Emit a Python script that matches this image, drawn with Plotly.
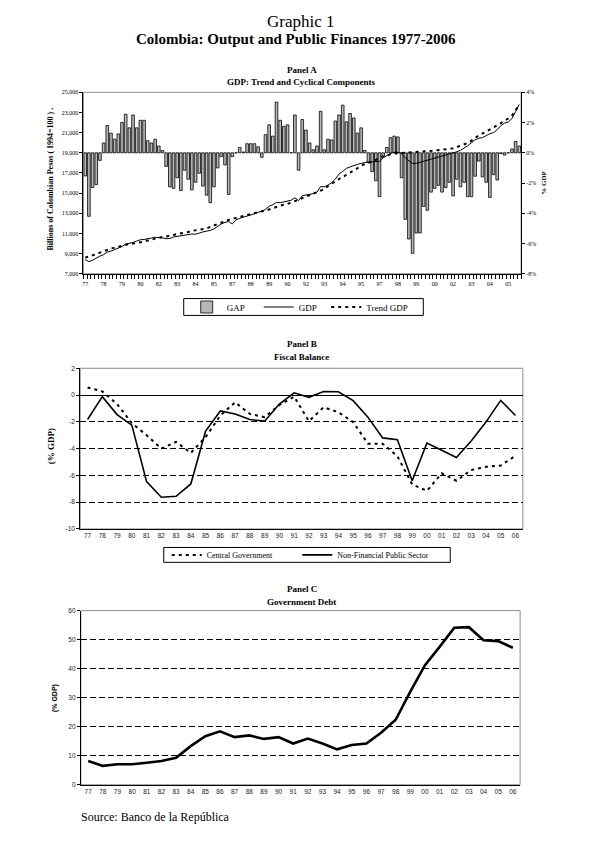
import plotly.graph_objects as go

# ---------------- Data ----------------
# Panel A: quarterly 1977Q1 - 2006Q3
quarter_labels = ['77', '78', '79', '80', '82', '83', '84', '85', '87', '88', '89', '90',
                  '92', '93', '94', '95', '97', '98', '99', '00', '02', '03', '04', '05']
gap = [-1.53, -4.2, -2.3, -2.1, -0.5, 0.65, 1.8, 1.3, 0.9, 1.25,
       2.0, 2.55, 1.65, 2.5, 1.65, 2.15, 2.15, 0.8, 0.65, 0.9,
       0.45, 0.15, -0.9, -2.25, -2.35, -1.65, -2.5, -1.15, -1.75, -2.45,
       -1.95, -1.35, -2.2, -2.8, -3.3, -2.25, -1.0, -0.25, -0.8, -2.75,
       -0.25, 0.0, 0.35, 0.05, 0.6, 0.6, 0.6, 0.4, -0.3, 1.2,
       1.85, 1.1, 3.35, 2.15, 1.75, 1.85, 0.0, 2.5, -1.15, 2.2,
       1.5, 0.65, 0.2, 0.45, 2.75, 0.2, 0.9, 0.85, 2.1, 2.5,
       3.15, 2.05, 2.6, 2.3, 1.3, 1.65, 0.15, -0.65, -1.25, -1.85,
       -2.9, -0.25, 0.35, 1.0, 1.1, 1.05, -1.65, -4.4, -5.7, -6.65,
       -5.3, -5.3, -3.55, -3.8, -2.6, -2.35, -2.15, -2.6, -2.3, -1.95,
       -2.85, -1.75, -2.25, -1.95, -2.9, -2.9, -1.55, -0.55, -1.6, -1.95,
       -2.95, -1.45, -1.8, -0.05, -0.15, 0.0, 0.25, 0.75, 0.45]
gdp = [8410, 8200, 8350, 8570, 8750, 8900, 9150, 9250, 9400, 9600,
       9700, 9950, 10000, 10100, 10250, 10380, 10400, 10500, 10550, 10620,
       10600, 10560, 10480, 10500, 10650, 10700, 10800, 10780, 10900, 10950,
       10920, 11050, 11150, 11230, 11300, 11450, 11700, 11950, 12100, 12180,
       11950, 12350, 12500, 12600, 12750, 12850, 12950, 13100, 13200, 13400,
       13700, 13850, 14080, 14050, 14150, 14180, 14300, 14540, 14250, 14750,
       14850, 14880, 14950, 15100, 15650, 15620, 15800, 16040, 16400, 16900,
       17150, 17450, 17600, 17750, 17850, 17950, 18050, 18100, 18100, 18100,
       18150, 18500, 18700, 18950, 19060, 19050, 18930, 18500, 18200, 17950,
       17950, 18050, 18150, 18250, 18400, 18500, 18600, 18700, 18800, 18850,
       18950, 19100, 19250, 19450, 19700, 20000, 20300, 20450, 20500, 20700,
       20900, 21000, 21300, 21700, 21950, 22050, 22400, 23100, 23800]
trend_gdp = [8600, 8700, 8800, 8950, 9100, 9250, 9350, 9500, 9600, 9700,
             9800, 9900, 9950, 10000, 10050, 10100, 10200, 10300, 10400, 10500,
             10550, 10650, 10700, 10750, 10850, 10950, 11000, 11100, 11150, 11250,
             11300, 11400, 11450, 11500, 11650, 11800, 11950, 12050, 12200, 12350,
             12450, 12550, 12650, 12750, 12850, 12950, 13050, 13150, 13200, 13260,
             13400, 13550, 13650, 13750, 13850, 13930, 14050, 14200, 14350, 14450,
             14590, 14750, 14900, 15100, 15250, 15400, 15700, 15950, 16160, 16400,
             16600, 16850, 17030, 17250, 17520, 17700, 17900, 18000, 18110, 18300,
             18500, 18650, 18750, 18850, 18930, 18950, 19000, 19020, 19040, 19060,
             19080, 19100, 19120, 19150, 19180, 19230, 19260, 19300, 19330, 19380,
             19450, 19560, 19700, 19850, 19980, 20200, 20500, 20700, 20900, 21100,
             21300, 21550, 21750, 21950, 22200, 22400, 22700, 23200, 23750]

# Panels B and C: annual 1977 - 2006
years = ['77', '78', '79', '80', '81', '82', '83', '84', '85', '86', '87', '88', '89', '90', '91',
         '92', '93', '94', '95', '96', '97', '98', '99', '00', '01', '02', '03', '04', '05', '06']
central_gov = [0.57, 0.27, -0.67, -2.1, -3.0, -4.0, -3.5, -4.32, -3.14, -1.53,
               -0.54, -1.41, -1.65, -0.74, -0.12, -1.95, -0.91, -1.28, -2.02, -3.63,
               -3.63, -4.57, -6.67, -7.16, -5.85, -6.4, -5.6, -5.36, -5.26, -4.54]
nfps = [-1.83, -0.12, -1.46, -2.25, -6.47, -7.63, -7.56, -6.64, -2.69, -1.19,
        -1.41, -1.83, -1.95, -0.67, 0.17, -0.17, 0.27, 0.25, -0.42, -1.65,
        -3.2, -3.33, -6.4, -3.58, -4.12, -4.67, -3.43, -2.02, -0.4, -1.53]
debt = [8.2, 6.5, 7.06, 7.06, 7.6, 8.2, 9.3, 13.3, 16.7, 18.4,
        16.4, 17.0, 15.8, 16.4, 14.2, 15.9, 14.2, 12.2, 13.7, 14.2,
        17.9, 22.4, 32.1, 41.2, 47.5, 54.1, 54.3, 49.8, 49.5, 47.2]

# ---------------- Layout helpers ----------------
PAGE_W, PAGE_H = 608, 849
OFF = 8  # default body margin of the html page
W, H = PAGE_W - 2 * OFF, PAGE_H - 2 * OFF


def px(x):
    return (x - OFF) / W


def py(y):
    return 1 - (y - OFF) / H


def pad(s, n):
    # trailing non-breaking spaces widen a legend entry (spacing only)
    return s + '\u00a0' * n


SERIF = 'Liberation Serif'
SANS = 'Liberation Sans'

q = list(range(1, len(gap) + 1))
yr = list(range(1, len(years) + 1))

fig = go.Figure()

# Panel A
fig.add_trace(go.Bar(x=q, y=gap, name=pad('GAP', 4), xaxis='x', yaxis='y', width=0.72,
                     marker=dict(color='#b8b8b8', line=dict(color='black', width=0.8)),
                     legend='legend'))
fig.add_trace(go.Scatter(x=q, y=gdp, name=pad('GDP', 2), mode='lines', xaxis='x', yaxis='y2',
                         line=dict(color='black', width=1), legend='legend'))
fig.add_trace(go.Scatter(x=q, y=trend_gdp, name='Trend GDP', mode='lines', xaxis='x', yaxis='y2',
                         line=dict(color='black', width=2, dash='3px,4px'), legend='legend'))

# Panel B
fig.add_trace(go.Scatter(x=yr, y=central_gov, name=pad('Central Government', 10), mode='lines',
                         xaxis='x2', yaxis='y3',
                         line=dict(color='black', width=2, dash='3px,4px'), legend='legend2'))
fig.add_trace(go.Scatter(x=yr, y=nfps, name='Non-Financial Public Sector', mode='lines',
                         xaxis='x2', yaxis='y3',
                         line=dict(color='black', width=1.6), legend='legend2'))

# Panel C
fig.add_trace(go.Scatter(x=yr, y=debt, name='Debt', mode='lines', xaxis='x3', yaxis='y4',
                         line=dict(color='black', width=2.6), showlegend=False))

A = dict(l=82.5, r=521, t=89, b=272)
B = dict(l=79.3, r=522.7, t=367.3, b=529.3)
C = dict(l=80, r=520, t=611.7, b=787.3)
LEG_A = dict(l=183, r=423, t=297, b=314)
LEG_B = dict(l=163, r=450, t=548, b=563)

axis_common = dict(showline=True, linecolor='black', linewidth=1, zeroline=False,
                   showgrid=False, fixedrange=True)

pct_vals = [4, 2, 0, -2, -4, -6, -8]
gdp_vals = list(range(7000, 25001, 2000))
b_vals = [2, 0, -2, -4, -6, -8, -10]
c_vals = [0, 10, 20, 30, 40, 50, 60]

fig.update_layout(
    width=W, height=H,
    margin=dict(l=0, r=0, t=0, b=0),
    paper_bgcolor='white', plot_bgcolor='rgba(0,0,0,0)',
    xaxis=dict(axis_common, domain=[px(A['l']), px(A['r'])], anchor='y', range=[0.5, len(gap) + 0.5],
               tickmode='array', tickvals=[1 + 5 * k for k in range(len(quarter_labels))],
               ticktext=quarter_labels, ticks='', ticklabelstandoff=4,
               tickfont=dict(family=SERIF, size=6, color='black'),
               minor=dict(tickmode='array', tickvals=[k + 0.5 for k in range(len(gap) + 1)],
                          ticks='outside', ticklen=4, tickcolor='black', tickwidth=1)),
    yaxis=dict(axis_common, domain=[py(A['b']), py(A['t'])], anchor='x', side='right',
               range=[-8, 4], tickmode='array', tickvals=pct_vals,
               ticktext=[('%d%%' % v) for v in pct_vals], ticks='outside', ticklen=3,
               tickcolor='black', tickfont=dict(family=SERIF, size=6, color='black')),
    yaxis2=dict(axis_common, overlaying='y', anchor='x', side='left',
                range=[7000, 25000], tickmode='array', tickvals=gdp_vals,
                ticktext=['{:,}'.format(v) for v in gdp_vals], ticks='outside', ticklen=3,
                tickcolor='black', tickfont=dict(family=SERIF, size=6, color='black')),
    xaxis2=dict(axis_common, domain=[px(B['l']), px(B['r'])], anchor='y3', range=[0.5, len(years) + 0.5],
                tickmode='array', tickvals=yr, ticktext=years, ticks='',
                tickfont=dict(family=SANS, size=6.5, color='#222')),
    yaxis3=dict(axis_common, domain=[py(B['b']), py(B['t'])], anchor='x2', range=[-10, 2],
                tickmode='array', tickvals=b_vals, ticktext=[str(v) for v in b_vals],
                ticks='outside', ticklen=3, tickcolor='black',
                tickfont=dict(family=SANS, size=6.5, color='#222'),
                zeroline=True, zerolinecolor='black', zerolinewidth=1.2,
                minor=dict(tickmode='array', tickvals=[-8, -6, -4, -2], showgrid=True,
                           gridcolor='black', gridwidth=1, griddash='6px,3px')),
    xaxis3=dict(axis_common, domain=[px(C['l']), px(C['r'])], anchor='y4', range=[0.5, len(years) + 0.5],
                tickmode='array', tickvals=yr, ticktext=years, ticks='',
                tickfont=dict(family=SANS, size=6.5, color='#222')),
    yaxis4=dict(axis_common, domain=[py(C['b']), py(C['t'])], anchor='x3', range=[0, 60],
                tickmode='array', tickvals=c_vals, ticktext=[str(v) for v in c_vals],
                ticks='outside', ticklen=3, tickcolor='black',
                tickfont=dict(family=SANS, size=6.5, color='#222'),
                minor=dict(tickmode='array', tickvals=[10, 20, 30, 40, 50], showgrid=True,
                           gridcolor='black', gridwidth=1, griddash='6px,3px')),
    legend=dict(orientation='h', x=px(186), xanchor='left',
                y=py((LEG_A['t'] + LEG_A['b']) / 2), yanchor='middle',
                borderwidth=0, bgcolor='rgba(0,0,0,0)',
                font=dict(family=SERIF, size=9, color='black'),
                itemwidth=30, traceorder='normal', tracegroupgap=0),
    legend2=dict(orientation='h', x=px(166), xanchor='left',
                 y=py((LEG_B['t'] + LEG_B['b']) / 2), yanchor='middle',
                 borderwidth=0, bgcolor='rgba(0,0,0,0)',
                 font=dict(family=SERIF, size=8, color='black'),
                 itemwidth=30, traceorder='normal', tracegroupgap=0),
    showlegend=True,
)

# plot-area borders (gray) and legend frames (black)
shapes = []
for P in (A, B, C):
    shapes.append(dict(type='rect', xref='paper', yref='paper',
                       x0=px(P['l']), x1=px(P['r']), y0=py(P['b']), y1=py(P['t']),
                       line=dict(color='#8c8c8c', width=1), layer='below'))
for L in (LEG_A, LEG_B):
    shapes.append(dict(type='rect', xref='paper', yref='paper',
                       x0=px(L['l']), x1=px(L['r']), y0=py(L['b']), y1=py(L['t']),
                       line=dict(color='black', width=1), layer='below'))
fig.update_layout(shapes=shapes)


def text(x, y, s, size, bold=False, family=SERIF, angle=0, xanchor='center'):
    fig.add_annotation(x=px(x), y=py(y), xref='paper', yref='paper', showarrow=False,
                       text=('<b>%s</b>' % s) if bold else s, textangle=angle,
                       xanchor=xanchor, yanchor='middle',
                       font=dict(family=family, size=size, color='black'))


text(300, 18, 'Graphic 1', 17)
text(295, 35, 'Colombia: Output and Public Finances 1977-2006', 15, bold=True)

text(301, 66, 'Panel A', 9, bold=True)
text(301, 79, 'GDP: Trend and Cyclical Components', 9, bold=True)
text(50, 176, 'Billions of Colombian Pesos ( 1994=100 ) .', 8, bold=True, angle=-90)
text(543, 180, '% GDP', 7, bold=True, angle=-90)

text(301, 343, 'Panel B', 9, bold=True)
text(301, 356, 'Fiscal Balance', 9, bold=True)
text(50, 446, '(% GDP)', 9, bold=True, angle=-90)

text(301, 590, 'Panel C', 9, bold=True)
text(301, 603, 'Government Debt', 9, bold=True)
text(54, 700, '(% GDP)', 7, bold=True, family=SANS, angle=-90)

text(78, 820, 'Source: Banco de la República', 12, xanchor='left')

fig.write_html('out.html')
